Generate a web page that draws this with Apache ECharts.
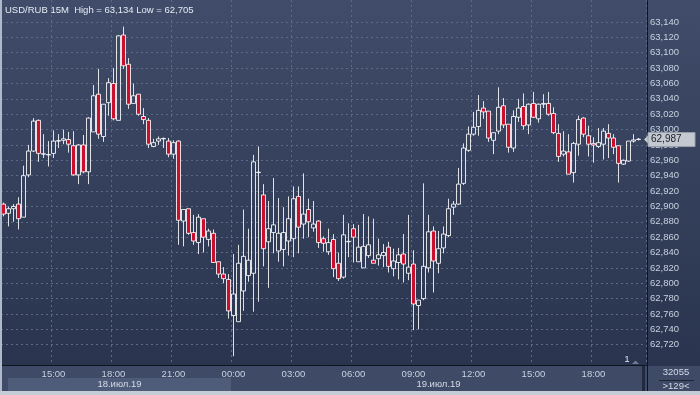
<!DOCTYPE html>
<html><head><meta charset="utf-8">
<script src="https://cdn.jsdelivr.net/npm/echarts@6/dist/echarts.min.js"></script>
<style>html,body{margin:0;padding:0;background:#2f3a55;}#c{width:700px;height:395px;}</style>
</head><body><div id="c"></div><script>
// USD/RUB 15M, first bar 18.07.2019 12:30
const startHour = 12, startMinute = 30, stepMinutes = 15, slotCount = 129;
const opens = [62.903,62.891,62.897,62.903,62.886,62.941,62.972,63.012,62.968,62.967,
62.969,62.985,62.986,62.987,62.979,62.941,62.980,62.945,62.997,63.046,62.991,63.035,63.060,63.012,63.123,63.085,63.034,63.046,63.017,63.012,62.978,62.985,62.988,62.985,62.968,62.985,62.881,62.897,62.866,62.853,62.884,62.857,62.865,62.828,62.812,62.805,62.758,62.750,62.790,62.810,62.813,62.944,62.915,62.854,62.866,62.842,62.844,62.855,62.858,62.913,62.877,62.896,62.872,62.881,62.858,62.841,62.857,62.826,62.808,62.854,62.871,62.828,62.820,62.836,62.830,62.832,62.836,62.847,62.819,62.827,62.838,62.813,62.825,62.771,62.780,62.820,62.868,62.826,62.846,62.862,62.899,62.903,62.930,62.973,62.994,63.004,63.028,63.024,62.986,62.998,63.031,63.007,62.976,63.016,63.030,63.006,63.034,63.014,63.033,63.034,63.021,62.995,62.968,62.971,62.944,62.981,63.015,62.992,62.982,62.978,62.981,62.995,62.989,62.979,62.955,62.959,62.985,62.987];
const closes = [62.890,62.897,62.900,62.884,62.940,62.972,63.011,62.969,62.9685,62.9675,
62.985,62.9855,62.988,62.981,62.941,62.980,62.945,63.015,63.044,62.994,63.033,63.061,63.014,63.122,63.083,63.033,63.044,63.020,63.013,62.981,62.983,62.988,62.9885,62.968,62.983,62.882,62.896,62.865,62.855,62.886,62.860,62.868,62.827,62.812,62.806,62.764,62.786,62.826,62.835,62.830,62.958,62.9445,62.845,62.871,62.876,62.865,62.866,62.884,62.910,62.873,62.890,62.880,62.877,62.853,62.852,62.853,62.819,62.806,62.863,62.8545,62.860,62.847,62.848,62.850,62.826,62.837,62.840,62.822,62.829,62.837,62.825,62.821,62.773,62.778,62.822,62.867,62.829,62.845,62.864,62.897,62.903,62.929,62.976,62.994,63.003,63.025,63.023,62.989,62.996,63.029,63.006,62.977,63.017,63.028,63.005,63.033,63.016,63.033,63.034,63.020,62.996,62.965,62.972,62.942,62.982,63.013,62.994,62.981,62.980,62.983,62.998,62.989,62.977,62.956,62.960,62.985,62.9865,62.9875];
const lows = [62.887,62.874,62.880,62.870,62.886,62.938,62.971,62.958,62.963,62.952,
62.963,62.976,62.981,62.970,62.940,62.929,62.943,62.929,62.997,62.988,62.984,63.018,63.012,63.012,63.079,63.027,63.034,63.018,63.007,62.976,62.977,62.980,62.976,62.964,62.962,62.850,62.848,62.863,62.850,62.838,62.840,62.848,62.827,62.807,62.800,62.754,62.705,62.750,62.764,62.802,62.763,62.776,62.822,62.794,62.839,62.828,62.822,62.836,62.834,62.839,62.858,62.860,62.867,62.846,62.841,62.837,62.808,62.803,62.806,62.834,62.827,62.828,62.820,62.833,62.826,62.823,62.821,62.814,62.809,62.805,62.801,62.804,62.739,62.740,62.778,62.814,62.788,62.813,62.839,62.860,62.889,62.902,62.928,62.971,62.992,62.992,63.014,62.984,62.968,62.994,63.002,62.970,62.971,63.010,63.000,62.994,63.015,63.009,63.028,63.018,62.994,62.958,62.965,62.942,62.931,62.966,62.990,62.965,62.957,62.976,62.961,62.963,62.968,62.931,62.954,62.958,62.983,62.986];
const highs = [62.905,62.900,62.903,62.912,62.953,62.980,63.015,63.013,62.994,62.985,
62.999,62.994,63.000,62.997,62.998,62.981,62.993,63.016,63.058,63.079,63.033,63.067,63.080,63.123,63.134,63.093,63.060,63.046,63.028,63.015,62.988,62.991,62.9895,62.989,62.986,62.986,62.896,62.897,62.889,62.890,62.884,62.871,62.870,62.828,62.821,62.812,62.838,62.850,62.896,62.871,62.967,62.978,62.929,62.907,62.937,62.911,62.899,62.913,62.926,62.926,62.943,62.910,62.907,62.882,62.861,62.871,62.864,62.840,62.889,62.878,62.877,62.876,62.890,62.887,62.884,62.858,62.851,62.854,62.845,62.846,62.864,62.889,62.843,62.778,62.930,62.889,62.874,62.868,62.874,62.910,62.907,62.950,62.982,63.004,63.023,63.045,63.037,63.024,62.996,63.055,63.041,63.007,63.025,63.040,63.047,63.034,63.049,63.034,63.046,63.049,63.029,63.007,62.998,62.994,62.984,63.018,63.016,63.005,62.990,63.002,63.002,63.007,62.994,62.979,62.961,62.985,62.994,62.989];
const yTicks = [62.72,62.74,62.76,62.78,62.80,62.82,62.84,62.86,62.88,62.90,62.92,62.94,62.96,62.98,63.00,63.02,63.04,63.06,63.08,63.10,63.12,63.14];
const xTickLabels = ['15:00','18:00','21:00','00:00','03:00','06:00','09:00','12:00','15:00','18:00'];
const dateLabels = ['18.июл.19','19.июл.19'];
const lastPrice = 62.987;
const titleText = 'USD/RUB 15M  High = 63,134 Low = 62,705';
const barsTotal = '32055', barsVisible = '>129<';

const categories = [];
for (let i = 0; i < slotCount; i++) {
  const m = (startHour * 60 + startMinute + i * stepMinutes) % 1440;
  categories.push(String(Math.floor(m / 60)).padStart(2, '0') + ':' + String(m % 60).padStart(2, '0'));
}
const candleData = opens.map((o, i) => [o, closes[i], lows[i], highs[i]]);
const tickIdx = (i) => xTickLabels.includes(categories[i]) && (i % 12 === 10);
const fmt = (v) => v.toFixed(3).replace('.', ',');
const FONT = 'Liberation Sans';

const chart = echarts.init(document.getElementById('c'), null, {renderer: 'canvas'});
chart.setOption({
  animation: false,
  backgroundColor: {type: 'linear', x: 0, y: 0, x2: 0, y2: 1, colorStops: [
    {offset: 0, color: '#404c69'}, {offset: 1, color: '#28324c'}]},
  grid: [
    {left: 1, right: 54, top: 6.63, bottom: 34.9},
    {left: 1, right: 54, top: 0, bottom: 30}
  ],
  xAxis: [
    {type: 'category', gridIndex: 0, data: categories, boundaryGap: true, show: false},
    {type: 'category', gridIndex: 1, data: categories, boundaryGap: true,
     axisLine: {show: true, lineStyle: {color: '#0f1420', width: 1}},
     axisTick: {show: false},
     axisLabel: {interval: (i) => tickIdx(i), color: '#c9d1e0', fontSize: 9.5, fontFamily: FONT, margin: 4},
     splitLine: {show: true, interval: (i) => tickIdx(i), lineStyle: {color: '#5c6a88', type: [2, 3], width: 1}}}
  ],
  yAxis: [
    {type: 'value', gridIndex: 0, position: 'right', min: 62.70, max: 63.16, interval: 0.02,
     axisLine: {show: false}, axisTick: {show: false}, splitLine: {show: false},
     axisLabel: {color: '#c9d1e0', fontSize: 9.5, fontFamily: FONT, margin: 4,
       formatter: (v) => (v < 62.71 || v > 63.15) ? '' : fmt(v)}},
    {type: 'value', gridIndex: 1, show: false, splitLine: {show: false}}
  ],
  series: [
    {type: 'line', xAxisIndex: 0, yAxisIndex: 0, data: [], silent: true, z: 1,
     markLine: {silent: true, symbol: 'none', z: 1, animation: false, label: {show: false},
       lineStyle: {color: '#5c6a88', type: [2, 3], width: 1},
       data: yTicks.map(v => ({yAxis: v}))}},
    {type: 'candlestick', xAxisIndex: 0, yAxisIndex: 0, data: candleData, z: 3,
     barWidth: 3.6,
     itemStyle: {color: 'rgba(0,0,0,0)', color0: '#c8102e', borderColor: '#ffffff',
       borderColor0: '#ffffff', borderColorDoji: '#ffffff', borderWidth: 0.85}}
  ]
});

// annotations
const px = (i) => chart.convertToPixel({xAxisIndex: 1}, i);
const midIdx = categories.indexOf('00:00');
const leftEdge = px(0) - 2.5, midEdge = px(midIdx) - 2.5, rightEdge = px(slotCount - 1) + 2.5;
const py = chart.convertToPixel({yAxisIndex: 0}, lastPrice);
chart.setOption({
  graphic: [
    {type: 'rect', z: -5, silent: true, shape: {x: 0, y: 366, width: 700, height: 26}, style: {fill: '#3e4a66'}},
    {type: 'rect', z: -4, silent: true, shape: {x: leftEdge + 7, y: 378, width: midEdge - leftEdge - 7, height: 13}, style: {fill: '#4e5c79'}},
    {type: 'text', z: 10, silent: true, style: {text: dateLabels[0], x: (leftEdge + 7 + midEdge) / 2, y: 384.5, align: 'center', verticalAlign: 'middle', fill: '#d4dbe8', font: '9.5px ' + FONT}},
    {type: 'text', z: 10, silent: true, style: {text: dateLabels[1], x: (midEdge + rightEdge) / 2, y: 384.5, align: 'center', verticalAlign: 'middle', fill: '#d4dbe8', font: '9.5px ' + FONT}},
    {type: 'text', z: 10, silent: true, style: {text: titleText, x: 5, y: 10, verticalAlign: 'middle', fill: '#e6ebf4', font: '9.5px ' + FONT}},
    {type: 'line', z: 10, silent: true, shape: {x1: 647.5, y1: 0, x2: 647.5, y2: 391}, style: {stroke: '#0f1420', lineWidth: 1}},
    {type: 'rect', z: 10, silent: true, shape: {x: 642, y: 366, width: 3, height: 25}, style: {fill: '#222a40'}},
    {type: 'polygon', z: 11, silent: true, shape: {points: [[644, py], [649, py - 5], [649, py + 5]]}, style: {fill: '#c4c8d0'}},
    {type: 'rect', z: 11, silent: true, shape: {x: 648, y: py - 7, width: 47, height: 14}, style: {fill: '#c4c8d0', stroke: '#9aa0aa', lineWidth: 1}},
    {type: 'text', z: 12, silent: true, style: {text: fmt(lastPrice), x: 651, y: py, verticalAlign: 'middle', fill: '#1a1d24', font: '10px ' + FONT}},
    {type: 'text', z: 10, silent: true, style: {text: '1', x: 627, y: 360, align: 'center', verticalAlign: 'middle', fill: '#e6ebf4', font: '9px ' + FONT}},
    {type: 'polygon', z: 10, silent: true, shape: {points: [[632, 364], [635.5, 360.5], [639, 364]]}, style: {fill: '#6d7996'}},
    {type: 'text', z: 10, silent: true, style: {text: barsTotal, x: 676, y: 372.5, align: 'center', verticalAlign: 'middle', fill: '#d4dbe8', font: '9.5px ' + FONT}},
    {type: 'line', z: 10, silent: true, shape: {x1: 659, y1: 380.5, x2: 694, y2: 380.5}, style: {stroke: '#1e2434', lineWidth: 1}},
    {type: 'text', z: 10, silent: true, style: {text: barsVisible, x: 676, y: 386.5, align: 'center', verticalAlign: 'middle', fill: '#d4dbe8', font: '9.5px ' + FONT}},
    {type: 'rect', z: 20, silent: true, shape: {x: 0, y: 0, width: 2, height: 395}, style: {fill: '#aeb9cb'}},
    {type: 'rect', z: 20, silent: true, shape: {x: 0, y: 391, width: 700, height: 4}, style: {fill: '#c6ccd6'}}
  ]
});
</script></body></html>
